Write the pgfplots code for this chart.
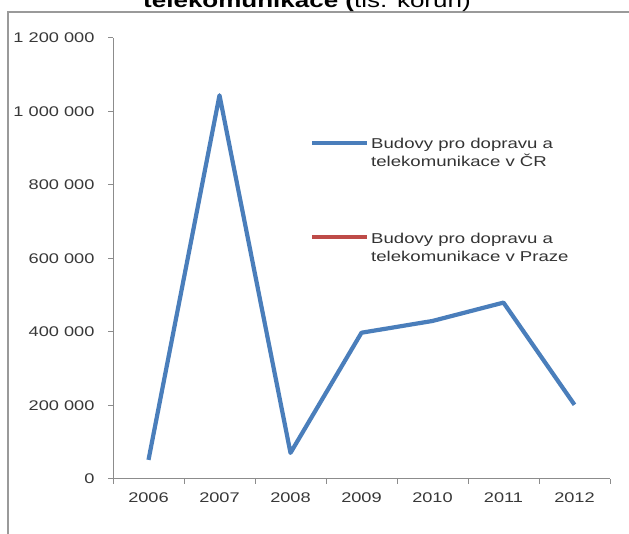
\documentclass[border=0pt]{standalone}
\usepackage{pgfplots}
\pgfplotsset{compat=1.18}
\usepackage{fontspec}
\setmainfont{Liberation Sans}[FakeStretch=1.3]
\definecolor{serA}{HTML}{4A7EBB}
\definecolor{serB}{HTML}{BE4B48}
\definecolor{axgray}{HTML}{8C8C8C}
\definecolor{framegray}{HTML}{9A9A9A}
\begin{document}
\begin{tikzpicture}[x=1pt,y=1pt]
\useasboundingbox (0,0) rectangle (629,534);
\clip (0,0) rectangle (629,534);
\draw[framegray, line width=1.3pt] (8,-5) -- (8,522) -- (640,522);
\node[anchor=base west, inner sep=0pt, font=\fontsize{20}{24}\selectfont] at (143,526) {\textbf{telekomunikace (}tis. korun)};
\begin{axis}[
  at={(113pt,55pt)}, anchor=south west,
  scale only axis, width=497pt, height=441pt,
  xmin=-0.5, xmax=6.5, ymin=0, ymax=1200000,
  axis x line=bottom, axis y line=left,
  axis line style={-, axgray, line width=1pt},
  xtick={0,1,2,3,4,5,6},
  xticklabels={2006,2007,2008,2009,2010,2011,2012},
  major x tick style={draw=none},
  minor xtick={-0.5,0.5,1.5,2.5,3.5,4.5,5.5,6.5},
  ytick={0,200000,400000,600000,800000,1000000,1200000},
  yticklabels={0,200~000,400~000,600~000,800~000,1~000~000,1~200~000},
  scaled y ticks=false,
  tick align=outside,
  major tick length=5pt, minor tick length=5pt,
  tick style={axgray, line width=1pt},
  ticklabel style={font=\fontsize{14}{16}\selectfont, text=black!78},
  xticklabel style={yshift=-5pt},
  yticklabel style={xshift=-10pt},
  legend style={at={(rel axis cs:0.396,0.782)}, anchor=north west, draw=none, fill=none,
    inner sep=0pt, row sep=76pt, font=\fontsize{14.3}{18}\selectfont, text=black!80,
    cells={anchor=west, inner xsep=2pt}},
  legend image code/.code={\draw[#1] (0pt,0pt) -- (55pt,0pt);},
  clip=false,
]
\addplot[serA, line width=4.2pt, line join=round] coordinates {
  (0,52000) (1,1044000) (2,71000) (3,398000) (4,430000) (5,480000) (6,202000)
};
\addlegendentry{\begin{tabular}[t]{@{}l@{}}Budovy pro dopravu a\\telekomunikace v ČR\end{tabular}}
\addlegendimage{serB, line width=4pt}
\addlegendentry{\begin{tabular}[t]{@{}l@{}}Budovy pro dopravu a\\telekomunikace v Praze\end{tabular}}
\end{axis}
\end{tikzpicture}
\end{document}
